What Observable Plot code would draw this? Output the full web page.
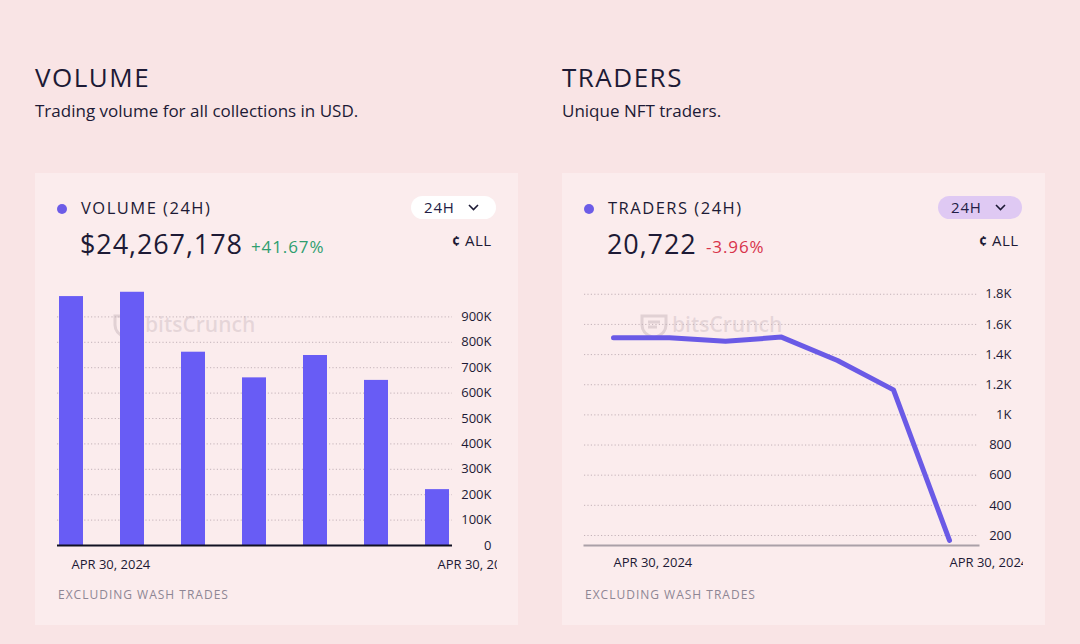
<!DOCTYPE html>
<html>
<head>
<meta charset="utf-8">
<script src="https://cdn.jsdelivr.net/npm/d3@7"></script>
<script src="https://cdn.jsdelivr.net/npm/@observablehq/plot@0.6"></script>
<style>
  html, body { margin: 0; padding: 0; }
  body { width: 1080px; height: 644px; background: #f9e4e5; position: relative; overflow: hidden;
         font-family: "Open Sans", sans-serif; color: #1d1a35; }
  .abs { position: absolute; white-space: nowrap; }
  .title { font-size: 26px; letter-spacing: 1.5px; line-height: 1; }
  .sub { font-size: 17px; line-height: 1; }
  .card { position: absolute; background: #fbeced; }
  .dot { position: absolute; width: 10px; height: 10px; border-radius: 50%; background: #6c5ce7; }
  .metric { font-size: 16.5px; letter-spacing: 1.5px; line-height: 1; }
  .big { font-size: 27px; letter-spacing: 0.9px; line-height: 1; }
  .pct { font-size: 17px; letter-spacing: 0.9px; line-height: 1; }
  .pill { position: absolute; height: 23px; border-radius: 12px; font-size: 15px; line-height: 23px; letter-spacing: 0.8px; color: #231d45; }
  .all { font-size: 15px; line-height: 1; letter-spacing: 0.5px; }
  .foot { font-size: 12px; letter-spacing: 1px; color: #8e8694; line-height: 1; }
  .wm { font-size: 21px; color: rgba(165,145,155,0.25); font-weight: 600; line-height: 1; }
  .plotbox { position: absolute; }
</style>
</head>
<body>
<div class="abs title" style="left:35px; top:64px;">VOLUME</div>
<div class="abs sub" style="left:35px; top:102px;">Trading volume for all collections in USD.</div>
<div class="abs title" style="left:562px; top:64px;">TRADERS</div>
<div class="abs sub" style="left:562px; top:102px;">Unique NFT traders.</div>

<div class="card" style="left:35px; top:173px; width:483px; height:452px;"></div>
<div class="card" style="left:562px; top:173px; width:483px; height:452px;"></div>

<div class="dot" style="left:57px; top:204px;"></div>
<div class="abs metric" style="left:81px; top:200px;">VOLUME (24H)</div>
<div class="abs big" style="left:80px; top:230px;">$24,267,178</div>
<div class="abs pct" style="left:251px; top:238px; color:#2f9e6f;">+41.67%</div>
<div class="pill" style="left:411px; top:196px; width:85px; background:#ffffff;"><span style="margin-left:13px;">24H</span><svg style="position:absolute; left:57px; top:8px;" width="11" height="7"><polyline points="1,1 5.5,5.5 10,1" fill="none" stroke="#1d1a35" stroke-width="1.6"/></svg></div>
<div class="abs all" style="left:452px; top:233px;"><b style="font-size:14px;">&#162;</b> ALL</div>
<svg class="abs" style="left:112px; top:313px;" width="30" height="26"><path d="M3,3 L27,3 L27,12 Q27,21 15,25 Q3,21 3,12 Z M9,9 L21,9 M9,14 L18,14" fill="none" stroke="rgba(165,145,155,0.3)" stroke-width="3"/></svg>
<div class="abs wm" style="left:145px; top:314px;">bitsCrunch</div>
<div class="abs foot" style="left:58px; top:589px;">EXCLUDING WASH TRADES</div>

<div class="dot" style="left:584px; top:204px;"></div>
<div class="abs metric" style="left:608px; top:200px;">TRADERS (24H)</div>
<div class="abs big" style="left:607px; top:230px;">20,722</div>
<div class="abs pct" style="left:706px; top:238px; color:#d8334a;">-3.96%</div>
<div class="pill" style="left:938px; top:196px; width:84px; background:#dfc9f3;"><span style="margin-left:13px;">24H</span><svg style="position:absolute; left:57px; top:8px;" width="11" height="7"><polyline points="1,1 5.5,5.5 10,1" fill="none" stroke="#1d1a35" stroke-width="1.6"/></svg></div>
<div class="abs all" style="left:979px; top:233px;"><b style="font-size:14px;">&#162;</b> ALL</div>
<svg class="abs" style="left:639px; top:313px;" width="30" height="26"><path d="M3,3 L27,3 L27,12 Q27,21 15,25 Q3,21 3,12 Z M9,9 L21,9 M9,14 L18,14" fill="none" stroke="rgba(165,145,155,0.3)" stroke-width="3"/></svg>
<div class="abs wm" style="left:672px; top:314px;">bitsCrunch</div>
<div class="abs foot" style="left:585px; top:589px;">EXCLUDING WASH TRADES</div>

<div id="vol" class="plotbox" style="left:45px; top:270px;"></div>
<div id="trd" class="plotbox" style="left:575px; top:270px;"></div>

<script>
// ---- data ----
const periods = ["p1", "p2", "p3", "p4", "p5", "p6", "p7"];
const volumeValues = [980000, 997000, 761000, 660000, 748000, 650000, 220000];
const traderValues = [1512, 1512, 1488, 1516, 1361, 1166, 167];
const volumeTicks = [0, 100000, 200000, 300000, 400000, 500000, 600000, 700000, 800000, 900000];
const traderTicks = [200, 400, 600, 800, 1000, 1200, 1400, 1600, 1800];
const dateLabel = "APR 30, 2024";

const volData = periods.map((p, i) => ({period: p, value: volumeValues[i]}));
const trdData = periods.map((p, i) => ({period: p, value: traderValues[i]}));

const kfmt = d => d === 0 ? "0" : (d / 1000) + "K";
const tfmt = d => d >= 1000 ? (d / 1000) + "K" : String(d);
const commonStyle = {fontFamily: "Open Sans, sans-serif", fontSize: "13px", background: "transparent", overflow: "hidden", color: "#1d1a35"};

const vol = Plot.plot({
  width: 452, height: 310,
  marginLeft: 12, marginRight: 45, marginTop: 21, marginBottom: 35,
  style: commonStyle,
  x: {domain: periods, paddingInner: 0.6, paddingOuter: 0, axis: null},
  y: {domain: [0, 1000000], axis: null},
  marks: [
    Plot.gridY(volumeTicks, {stroke: "#c4b3b9", strokeOpacity: 1, strokeDasharray: "1.2,2.2"}),
    Plot.barY(volData, {x: "period", y: "value", fill: "#685cf5"}),
    Plot.ruleY([0], {stroke: "#111122", strokeWidth: 2}),
    Plot.axisY(volumeTicks, {anchor: "right", label: null, tickSize: 0, textAnchor: "end", dx: 30, tickFormat: kfmt, fill: "#1d1a35"}),
    Plot.axisX([periods[0], periods[periods.length - 1]], {anchor: "bottom", label: null, tickSize: 0, tickPadding: 14, textAnchor: "start", tickFormat: () => dateLabel, fill: "#1d1a35"})
  ]
});
document.getElementById("vol").appendChild(vol);

const trd = Plot.plot({
  width: 448, height: 310,
  marginLeft: 9, marginRight: 45, marginTop: 9, marginBottom: 35,
  style: commonStyle,
  x: {type: "point", domain: periods, padding: 0.5, axis: null},
  y: {domain: [133.6, 1898], axis: null},
  marks: [
    Plot.gridY(traderTicks, {stroke: "#c4b3b9", strokeOpacity: 1, strokeDasharray: "1.2,2.2"}),
    Plot.frame({anchor: "bottom", stroke: "#aaa0a8", strokeWidth: 2}),
    Plot.line(trdData, {x: "period", y: "value", stroke: "#6a5ae6", strokeWidth: 5, strokeLinecap: "round", strokeLinejoin: "round"}),
    Plot.axisY(traderTicks, {anchor: "right", label: null, tickSize: 0, textAnchor: "end", dx: 24, tickFormat: tfmt, fill: "#1d1a35"}),
    Plot.axisX([periods[0], periods[periods.length - 1]], {anchor: "bottom", label: null, tickSize: 0, tickPadding: 12, textAnchor: "start", tickFormat: () => dateLabel, fill: "#1d1a35"})
  ]
});
document.getElementById("trd").appendChild(trd);
</script>
</body>
</html>
